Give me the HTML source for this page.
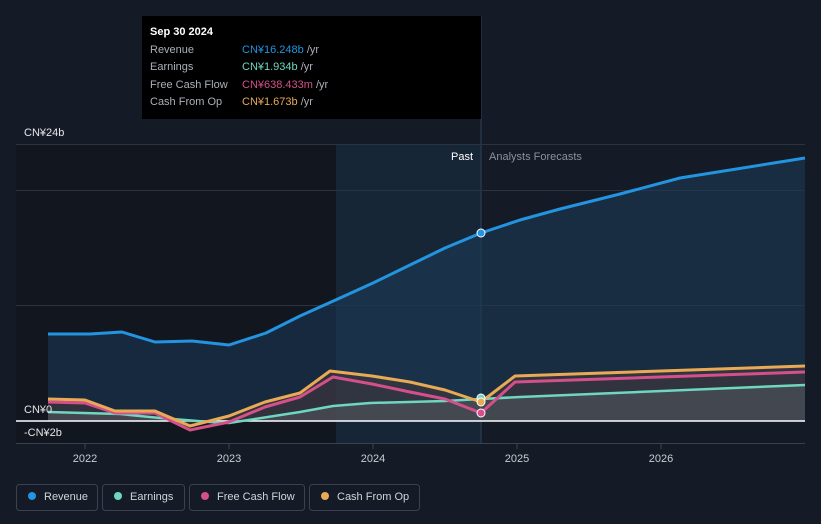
<!DOCTYPE html>
<html><head><style>
body{margin:0;background:#151b26;font-family:"Liberation Sans",sans-serif;}
svg{display:block}
</style></head><body>
<svg width="821" height="524" xmlns="http://www.w3.org/2000/svg" font-family="Liberation Sans, sans-serif">
<rect width="821" height="524" fill="#151b26"/>
<rect x="16" y="144" width="320" height="300" fill="#12161f"/>
<rect x="336" y="144" width="145" height="300" fill="#172636"/>
<line x1="481" y1="16" x2="481" y2="444" stroke="#2a4058" stroke-width="1"/>
<g stroke="#2c3340" stroke-width="1">
<line x1="16" y1="144.5" x2="805" y2="144.5"/>
<line x1="16" y1="190.5" x2="805" y2="190.5"/>
<line x1="16" y1="305.5" x2="805" y2="305.5"/>
<line x1="16" y1="443.5" x2="805" y2="443.5" stroke="#3a4250"/>
</g>
<path d="M48,334 L90,334 L122,332 L155,342 L192,341 L229,345 L266,333 L300,316 L340,298 L373,283 L410,265 L445,248 L481,233 L520,220 L560,209 L620,194 L680,178 L805,158 L805,421 L48,421Z" fill="#1c3b5a" opacity="0.55"/>
<path d="M48,399 L85,400 L115,411 L155,411 L190,426 L229,416 L265,402 L300,393 L330,371 L372,376 L410,382 L445,390 L481,402 L515,376 L805,366 L805,421 L48,421Z" fill="#4a3a3a" opacity="0.5"/>
<path d="M48,412 L120,414 L160,418 L210,422 L229,423 L300,412 L333,406 L370,403 L445,401 L481,399 L520,397 L805,385 L805,421 L48,421Z" fill="#5a5f66" opacity="0.45"/>
<line x1="16" y1="421" x2="805" y2="421" stroke="#ffffff" stroke-width="1.5"/>
<g fill="none" stroke-width="3" stroke-linejoin="round">
<path d="M48,412 L120,414 L160,418 L210,422 L229,423 L300,412 L333,406 L370,403 L445,401 L481,399 L520,397 L805,385" stroke="#6fd6c0" stroke-width="2.5"/>
<path d="M48,402 L85,403 L115,413 L155,413 L190,430 L229,422 L265,407 L300,397 L333,377 L372,384 L410,392 L445,399 L481,413 L515,382 L805,372" stroke="#d4508a"/>
<path d="M48,399 L85,400 L115,411 L155,411 L190,426 L229,416 L265,402 L300,393 L330,371 L372,376 L410,382 L445,390 L481,402 L515,376 L805,366" stroke="#e8aa55"/>
<path d="M48,334 L90,334 L122,332 L155,342 L192,341 L229,345 L266,333 L300,316 L340,298 L373,283 L410,265 L445,248 L481,233 L520,220 L560,209 L620,194 L680,178 L805,158" stroke="#2394e0"/>
</g>
<circle cx="481" cy="233" r="4" fill="#2394e0" stroke="#fff" stroke-width="1"/>
<circle cx="481" cy="398" r="4" fill="#6fd6c0" stroke="#fff" stroke-width="1"/>
<circle cx="481" cy="402" r="4" fill="#e8aa55" stroke="#fff" stroke-width="1"/>
<circle cx="481" cy="413" r="4" fill="#d4508a" stroke="#fff" stroke-width="1"/>
<g font-size="11" fill="#e6e6e6">
<text x="24" y="136">CN¥24b</text>
<text x="24" y="413">CN¥0</text>
<text x="24" y="436">-CN¥2b</text>
<text x="473" y="160" text-anchor="end" fill="#fff">Past</text>
<text x="489" y="160" fill="#8a919c">Analysts Forecasts</text>
</g>
<g font-size="11" fill="#c8ccd2" text-anchor="middle">
<text x="85" y="462">2022</text><text x="229" y="462">2023</text><text x="373" y="462">2024</text><text x="517" y="462">2025</text><text x="661" y="462">2026</text>
</g>
<g stroke="#3a4250"><line x1="85" y1="444" x2="85" y2="449"/><line x1="229" y1="444" x2="229" y2="449"/><line x1="373" y1="444" x2="373" y2="449"/><line x1="517" y1="444" x2="517" y2="449"/><line x1="661" y1="444" x2="661" y2="449"/></g>
<rect x="142" y="16" width="339" height="103" fill="#000"/>
<g font-size="11">
<text x="150" y="35" fill="#fff" font-weight="bold">Sep 30 2024</text>
<text x="150" y="53" fill="#aab0b8">Revenue</text><text x="242" y="53" fill="#2394e0">CN¥16.248b <tspan fill="#aab0b8">/yr</tspan></text>
<text x="150" y="70" fill="#aab0b8">Earnings</text><text x="242" y="70" fill="#6fd6c0">CN¥1.934b <tspan fill="#aab0b8">/yr</tspan></text>
<text x="150" y="88" fill="#aab0b8">Free Cash Flow</text><text x="242" y="88" fill="#d4508a">CN¥638.433m <tspan fill="#aab0b8">/yr</tspan></text>
<text x="150" y="105" fill="#aab0b8">Cash From Op</text><text x="242" y="105" fill="#e8aa55">CN¥1.673b <tspan fill="#aab0b8">/yr</tspan></text>
</g>
<g font-size="11" fill="#d0d4da" stroke-width="1">
<rect x="16.5" y="484.5" width="81" height="26" rx="3" fill="none" stroke="#3a4250"/>
<circle cx="32" cy="496" r="4" fill="#2394e0"/><text x="44" y="500">Revenue</text>
<rect x="102.5" y="484.5" width="82" height="26" rx="3" fill="none" stroke="#3a4250"/>
<circle cx="118" cy="496" r="4" fill="#6fd6c0"/><text x="130" y="500">Earnings</text>
<rect x="189.5" y="484.5" width="115" height="26" rx="3" fill="none" stroke="#3a4250"/>
<circle cx="205" cy="496" r="4" fill="#d4508a"/><text x="217" y="500">Free Cash Flow</text>
<rect x="309.5" y="484.5" width="110" height="26" rx="3" fill="none" stroke="#3a4250"/>
<circle cx="325" cy="496" r="4" fill="#e8aa55"/><text x="337" y="500">Cash From Op</text>
</g>
</svg>
</body></html>
